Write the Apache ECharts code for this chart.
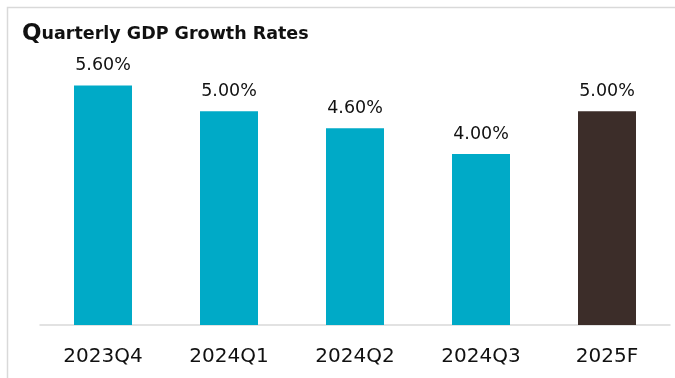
<!DOCTYPE html>
<html>
<head>
<meta charset="utf-8">
<script src="https://cdn.jsdelivr.net/npm/echarts@6/dist/echarts.min.js"></script>
<style>
html,body{margin:0;padding:0;background:#fff;}
#chart{width:675px;height:378px;}
</style>
</head>
<body>
<div id="chart"></div>
<script>
// Quarterly GDP growth, %
const categories = ['2023Q4', '2024Q1', '2024Q2', '2024Q3', '2025F'];
const growthRates = [5.6, 5.0, 4.6, 4.0, 5.0];
const forecastIndex = 4;

const teal = '#00AAC7';
const forecastColor = '#3C2D29';
const font = 'DejaVu Sans';

const chart = echarts.init(document.getElementById('chart'));
chart.setOption({
  animation: false,
  backgroundColor: '#fff',
  graphic: [{
    type: 'rect',
    shape: { x: 7.5, y: 7.5, width: 700, height: 400 },
    style: { fill: 'none', stroke: '#d9d9d9', lineWidth: 1.5 },
    silent: true
  }],
  title: {
    text: '{q|Q}{t|uarterly GDP Growth Rates}',
    left: 17,
    top: 18,
    textStyle: {
      rich: {
        q: { fontFamily: font, fontWeight: 'bold', fontSize: 23, color: '#111' },
        t: { fontFamily: font, fontWeight: 'bold', fontSize: 17.5, color: '#111' }
      }
    }
  },
  grid: { left: 40, right: 5, top: 68.5, bottom: 53, containLabel: false },
  xAxis: {
    type: 'category',
    data: categories,
    axisLine: { lineStyle: { color: '#d9d9d9', width: 1.5 } },
    axisTick: { show: false },
    axisLabel: { color: '#111', fontFamily: font, fontSize: 20, margin: 22 }
  },
  yAxis: {
    type: 'value',
    min: 0,
    max: 6,
    show: false
  },
  series: [{
    type: 'bar',
    barWidth: 58,
    data: growthRates.map((v, i) => ({
      value: v,
      itemStyle: { color: i === forecastIndex ? forecastColor : teal }
    })),
    label: {
      show: true,
      position: 'top',
      distance: 11,
      color: '#111',
      fontFamily: font,
      fontSize: 17.5,
      formatter: p => p.value.toFixed(2) + '%'
    }
  }]
});
</script>
</body>
</html>
